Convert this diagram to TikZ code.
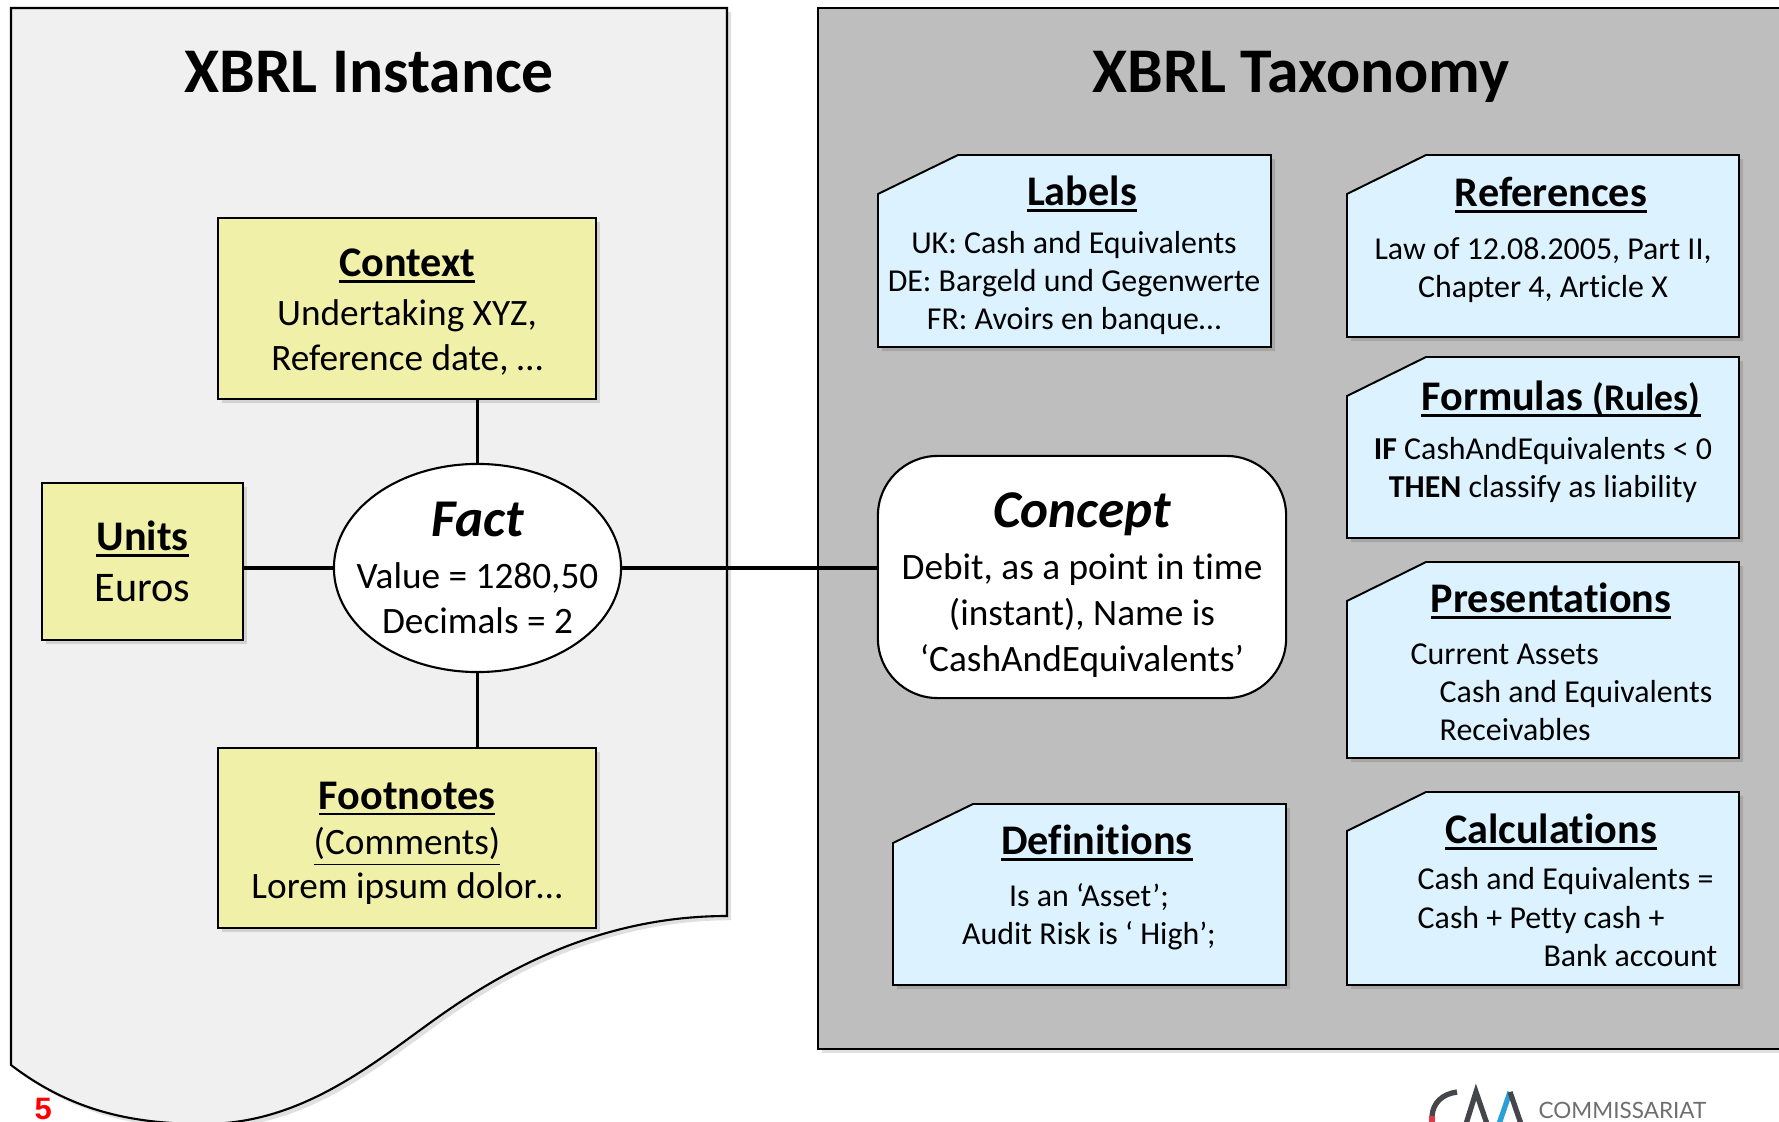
\documentclass[tikz,border=0pt]{standalone}
\usepackage{fontspec}
\setmainfont{Carlito}[Ligatures=NoCommon]
\newfontfamily\logofont{Lato}
\newfontfamily\pagefont{Liberation Sans}
\usetikzlibrary{shadows, shapes.geometric}

\definecolor{panelgray}{HTML}{F0F0F0}
\definecolor{taxgray}{HTML}{BEBEBE}
\definecolor{contextyellow}{HTML}{F1F0A8}
\definecolor{noteblue}{HTML}{DCF3FF}
\definecolor{logoblue}{HTML}{2B9FD8}
\definecolor{logored}{HTML}{E0394A}
\definecolor{logodark}{HTML}{45464B}
\definecolor{logogray}{HTML}{6E6E6E}

\newcommand{\thickul}[1]{\setbox0\hbox{#1}\rlap{\rule[-1.7pt]{\wd0}{.8pt}}\box0}
\newcommand{\headtxt}[1]{{\fontsize{12}{14}\selectfont\bfseries\thickul{#1}}}
\newcommand{\bigtxt}{\fontsize{10.6}{12.7}\selectfont}
\newcommand{\mainhead}[1]{{\fontsize{15.1}{15}\selectfont\bfseries\itshape #1}}

\tikzset{
    softshadow/.style={drop shadow={fill=black, opacity=.12, shadow xshift=1.2pt, shadow yshift=-1.2pt}},
    yellowbox/.style={draw, line width=.6pt, fill=contextyellow, softshadow, align=center, inner sep=0pt, font=\bigtxt},
    notebox/.style={draw, line width=.55pt, fill=noteblue, softshadow},
    notehead/.style={inner sep=0pt, align=center},
    notebody/.style={inner sep=0pt, align=center, font=\fontsize{9.07}{10.8}\selectfont},
    noteline/.style={inner sep=0pt, font=\fontsize{9.07}{10.8}\selectfont},
    titletext/.style={inner sep=0pt, anchor=base, font=\fontsize{18.1}{20}\selectfont\bfseries},
    link/.style={line width=.9pt},
}

\begin{document}
\begin{tikzpicture}[x=0.01cm, y=-0.01cm]
    \clip (0,0) rectangle (1779,1122);
    \fill[white] (0,0) rectangle (1779,1122);

    % instance sheet
    \draw[line width=.6pt, fill=panelgray, softshadow] (11,8) -- (727,8) -- (727,916)
        .. controls (590,916) and (490,980) .. (434,1020)
        .. controls (370,1066) and (300,1124) .. (204,1124)
        .. controls (130,1124) and (70,1110) .. (11,1065) -- cycle;
    \node[titletext] (instancetitle) at (369,93) {XBRL Instance};

    % taxonomy sheet
    \draw[line width=.6pt, fill=taxgray, softshadow] (818,8) rectangle (1830,1049);
    \node[titletext] (taxonomytitle) at (1301,93) {XBRL Taxonomy};

    % instance boxes
    \node[yellowbox, minimum width=3.78cm, minimum height=1.81cm] (context) at (407,308.5)
        {\rule{0pt}{10pt}\headtxt{Context}\\[1.2pt]Undertaking XYZ,\\Reference date, …};
    \node[yellowbox, minimum width=2.01cm, minimum height=1.57cm] (units) at (142.5,561.5)
        {\headtxt{Units}\\[1.8pt]{\fontsize{12}{14}\selectfont Euros}};
    \node[yellowbox, minimum width=3.78cm, minimum height=1.8cm] (footnotes) at (407,838)
        {\rule{0pt}{10.9pt}\headtxt{Footnotes}\\\underline{(Comments)}\\Lorem ipsum dolor…};
    \node[draw, ellipse, line width=.6pt, fill=white, align=center, inner ysep=0pt, inner xsep=-.3cm, minimum width=2.87cm, minimum height=2.08cm, font=\bigtxt] (fact) at (477.5,568)
        {\mainhead{Fact}\\[2.1pt]Value = 1280,50\\Decimals = 2};

    % concept
    \node[draw, rectangle, rounded corners=17pt, line width=.6pt, fill=white, align=center, inner sep=0pt, minimum width=4.08cm, minimum height=2.42cm, font=\fontsize{10.6}{13}\selectfont] (concept) at (1082,577)
        {\rule{0pt}{14.5pt}\mainhead{Concept}\\[1.8pt]Debit, as a point in time\\(instant), Name is\\‘CashAndEquivalents’};

    % fact links
    \draw[link] (fact.north) -- (context.south -| fact.north);
    \draw[link] (fact.south) -- (footnotes.north -| fact.south);
    \draw[link] (fact.west) -- (units.east |- fact.west);
    \draw[link] (fact.east) -- (concept.west |- fact.east);

    % labels
    \draw[notebox] (878,194) -- (958,155) -- (1271,155) -- (1271,347) -- (878,347) -- cycle;
    \node[notehead] (labelshead) at (1082,194) {\headtxt{Labels}};
    \node[notebody] (labelsbody) at (1074,283) {UK: Cash and Equivalents\\DE: Bargeld und Gegenwerte\\FR: Avoirs en banque…};

    % references
    \draw[notebox] (1347,194) -- (1426,155) -- (1739,155) -- (1739,337) -- (1347,337) -- cycle;
    \node[notehead] (refshead) at (1551,195) {\headtxt{References}};
    \node[notebody] (refsbody) at (1543,270) {Law of 12.08.2005, Part II,\\Chapter 4, Article X};

    % formulas
    \draw[notebox] (1347,396) -- (1426,357) -- (1739,357) -- (1739,538) -- (1347,538) -- cycle;
    \node[notehead] (formulashead) at (1561,399) {\headtxt{Formulas {\fontsize{10.7}{14}\selectfont(Rules)}}};
    \node[notebody] (formulasbody) at (1543,470) {\textbf{IF} CashAndEquivalents < 0\\\textbf{THEN} classify as liability};

    % presentations
    \draw[notebox] (1347,601) -- (1426,562) -- (1739,562) -- (1739,758) -- (1347,758) -- cycle;
    \node[notehead] (preshead) at (1551,601) {\headtxt{Presentations}};
    \node[noteline, anchor=west] (presone) at (1410,654) {Current Assets};
    \node[noteline, anchor=west] (prestwo) at (1439,694) {Cash and Equivalents};
    \node[noteline, anchor=west] (presthree) at (1439,730) {Receivables};

    % calculations
    \draw[notebox] (1347,831) -- (1426,792) -- (1739,792) -- (1739,985) -- (1347,985) -- cycle;
    \node[notehead] (calchead) at (1551,832) {\headtxt{Calculations}};
    \node[noteline, anchor=west] (calcone) at (1417,881) {Cash and Equivalents =};
    \node[noteline, anchor=west] (calctwo) at (1417,920) {Cash + Petty cash +};
    \node[noteline, anchor=east] (calcthree) at (1718,956) {Bank account};

    % definitions
    \draw[notebox] (893,843) -- (973,804) -- (1286,804) -- (1286,985) -- (893,985) -- cycle;
    \node[notehead] (defshead) at (1097,843) {\headtxt{Definitions}};
    \node[notebody] (defsbody) at (1089,917) {Is an ‘Asset’;\\Audit Risk is ‘ High’;};

    % page number
    \node[inner sep=0pt, text=red, anchor=base west, font=\pagefont\fontsize{8.8}{11}\selectfont\bfseries] (pagenum) at (34,1119) {5};

    % logo
    \draw[logodark, line width=1.5pt] (1457,1092) .. controls (1442,1094) and (1433,1103) .. (1432,1116);
    \draw[logored, line width=1.5pt] (1432,1116) -- (1432,1124);
    \draw[logodark, line width=1.5pt] (1466,1124) -- (1476,1092) -- (1487,1124);
    \draw[logoblue, line width=1.5pt] (1499,1124) -- (1510,1092);
    \draw[logodark, line width=1.5pt] (1510,1092) -- (1521,1124);
    \node[inner sep=0pt, text=logogray, anchor=base west, font=\logofont\fontsize{6.4}{8}\selectfont] (logotext) at (1538,1118) {COMMISSARIAT};
\end{tikzpicture}
\end{document}
